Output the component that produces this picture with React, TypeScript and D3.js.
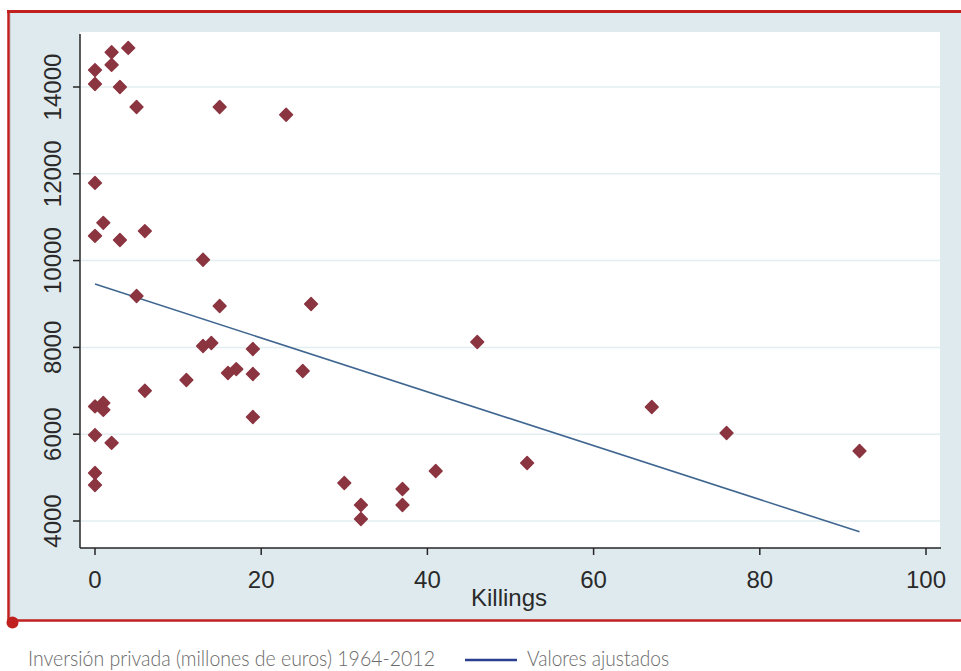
import React, { useRef, useEffect } from "react";
import * as d3 from "d3";

// killings per year vs private investment (millions of euros)
const killings = [4, 2, 2, 0, 0, 3, 5, 15, 23, 0, 1, 0, 3, 6, 13, 5, 15, 26, 13, 14, 19, 46, 16, 17, 19, 25, 11, 6, 19, 0, 1, 1, 0, 2, 0, 0, 30, 32, 32, 37, 37, 41, 52, 67, 76, 92];
const investment = [14900, 14800, 14510, 14390, 14070, 14000, 13540, 13540, 13360, 11790, 10870, 10570, 10475, 10680, 10020, 9184, 8954, 9000, 8032, 8101, 7963, 8124, 7410, 7500, 7387, 7456, 7249, 7000, 6396, 6640, 6720, 6560, 5980, 5800, 5106, 4830, 4876, 4369, 4046, 4737, 4369, 5152, 5336, 6627, 6028, 5613];

// fitted values at the ends of the range
const fittedX = [0, 92];
const fittedY = [9460, 3750];

const xTicks = [0, 20, 40, 60, 80, 100];
const yTicks = [4000, 6000, 8000, 10000, 12000, 14000];

const App = () => {
  const svgRef = useRef(null);

  useEffect(() => {
    const svg = d3.select(svgRef.current);
    svg.selectAll("*").remove();

    const x = d3.scaleLinear().domain([0, 100]).range([95, 926]);
    const y = d3.scaleLinear().domain([4000, 14000]).range([521, 87]);

    // outer panel
    svg.append("rect").attr("x", 9).attr("y", 12).attr("width", 952).attr("height", 608).attr("fill", "#dfeaef");
    svg.append("line").attr("x1", 10.5).attr("x2", 10.5).attr("y1", 13).attr("y2", 619).attr("stroke", "#c9d2d6").attr("stroke-width", 1);

    // plot region
    svg.append("rect").attr("x", 80).attr("y", 32).attr("width", 860).attr("height", 516).attr("fill", "#fff");

    // grid
    svg.append("g")
      .selectAll("line")
      .data(yTicks)
      .join("line")
      .attr("x1", 81)
      .attr("x2", 940)
      .attr("y1", (d) => y(d))
      .attr("y2", (d) => y(d))
      .attr("stroke", "#e3eef0")
      .attr("stroke-width", 1.5);

    // axes
    const axisColor = "#262626";
    svg.append("line").attr("x1", 80).attr("x2", 80).attr("y1", 34).attr("y2", 548).attr("stroke", axisColor).attr("stroke-width", 1.5);
    svg.append("line").attr("x1", 80).attr("x2", 941).attr("y1", 548).attr("y2", 548).attr("stroke", axisColor).attr("stroke-width", 1.5);

    const font = "'Liberation Sans', Arial, sans-serif";

    const yg = svg.append("g");
    yg.selectAll("line")
      .data(yTicks)
      .join("line")
      .attr("x1", 73)
      .attr("x2", 80)
      .attr("y1", (d) => y(d))
      .attr("y2", (d) => y(d))
      .attr("stroke", axisColor)
      .attr("stroke-width", 1.5);
    yg.selectAll("text")
      .data(yTicks)
      .join("text")
      .attr("transform", (d) => `translate(61, ${y(d)}) rotate(-90)`)
      .attr("text-anchor", "middle")
      .attr("font-family", font)
      .attr("font-size", 24)
      .attr("fill", "#2a2a2a")
      .text((d) => d);

    const xg = svg.append("g");
    xg.selectAll("line")
      .data(xTicks)
      .join("line")
      .attr("x1", (d) => x(d))
      .attr("x2", (d) => x(d))
      .attr("y1", 548)
      .attr("y2", 555)
      .attr("stroke", axisColor)
      .attr("stroke-width", 1.5);
    xg.selectAll("text")
      .data(xTicks)
      .join("text")
      .attr("x", (d) => x(d))
      .attr("y", 588)
      .attr("text-anchor", "middle")
      .attr("font-family", font)
      .attr("font-size", 24)
      .attr("fill", "#2a2a2a")
      .text((d) => d);

    svg.append("text")
      .attr("x", 509)
      .attr("y", 606)
      .attr("text-anchor", "middle")
      .attr("font-family", font)
      .attr("font-size", 24)
      .attr("fill", "#2a2a2a")
      .text("Killings");

    // fitted line
    const fitted = fittedX.map((d, i) => [d, fittedY[i]]);
    svg.append("path")
      .attr("d", d3.line().x((d) => x(d[0])).y((d) => y(d[1]))(fitted))
      .attr("fill", "none")
      .attr("stroke", "#3f6690")
      .attr("stroke-width", 1.6);

    // points
    const sym = d3.symbol().type(d3.symbolSquare).size(82);
    svg.append("g")
      .selectAll("path")
      .data(killings.map((d, i) => [d, investment[i]]))
      .join("path")
      .attr("d", sym)
      .attr("transform", (d) => `translate(${x(d[0])}, ${y(d[1])}) rotate(45)`)
      .attr("fill", "#8b3541")
      .attr("stroke", "#8b3541")
      .attr("stroke-width", 1.5)
      .attr("stroke-linejoin", "round");

    // red frame
    const red = "#c0211f";
    svg.append("line").attr("x1", 7).attr("x2", 961).attr("y1", 11.5).attr("y2", 11.5).attr("stroke", red).attr("stroke-width", 3);
    svg.append("line").attr("x1", 8.5).attr("x2", 8.5).attr("y1", 10).attr("y2", 622).attr("stroke", red).attr("stroke-width", 2.5);
    svg.append("line").attr("x1", 8).attr("x2", 961).attr("y1", 620.5).attr("y2", 620.5).attr("stroke", red).attr("stroke-width", 2.5);
    svg.append("circle").attr("cx", 12.5).attr("cy", 622.5).attr("r", 6).attr("fill", red);

    // legend
    const legFont = "Lato, 'Open Sans', sans-serif";
    svg.append("text")
      .attr("x", 28)
      .attr("y", 666)
      .attr("font-family", legFont)
      .attr("font-weight", 300)
      .attr("font-size", 21)
      .attr("fill", "#6a6a6a")
      .attr("textLength", 407)
      .attr("lengthAdjust", "spacingAndGlyphs")
      .text("Inversión privada (millones de euros) 1964-2012");
    svg.append("line").attr("x1", 465).attr("x2", 517).attr("y1", 660).attr("y2", 660).attr("stroke", "#2b3f8e").attr("stroke-width", 2.5);
    svg.append("text")
      .attr("x", 527)
      .attr("y", 666)
      .attr("font-family", legFont)
      .attr("font-weight", 300)
      .attr("font-size", 21)
      .attr("fill", "#6a6a6a")
      .attr("textLength", 142)
      .attr("lengthAdjust", "spacingAndGlyphs")
      .text("Valores ajustados");
  }, []);

  return (
    <svg ref={svgRef} width={961} height={671} style={{ position: "absolute", left: 0, top: 0 }}></svg>
  );
};

export default App;
